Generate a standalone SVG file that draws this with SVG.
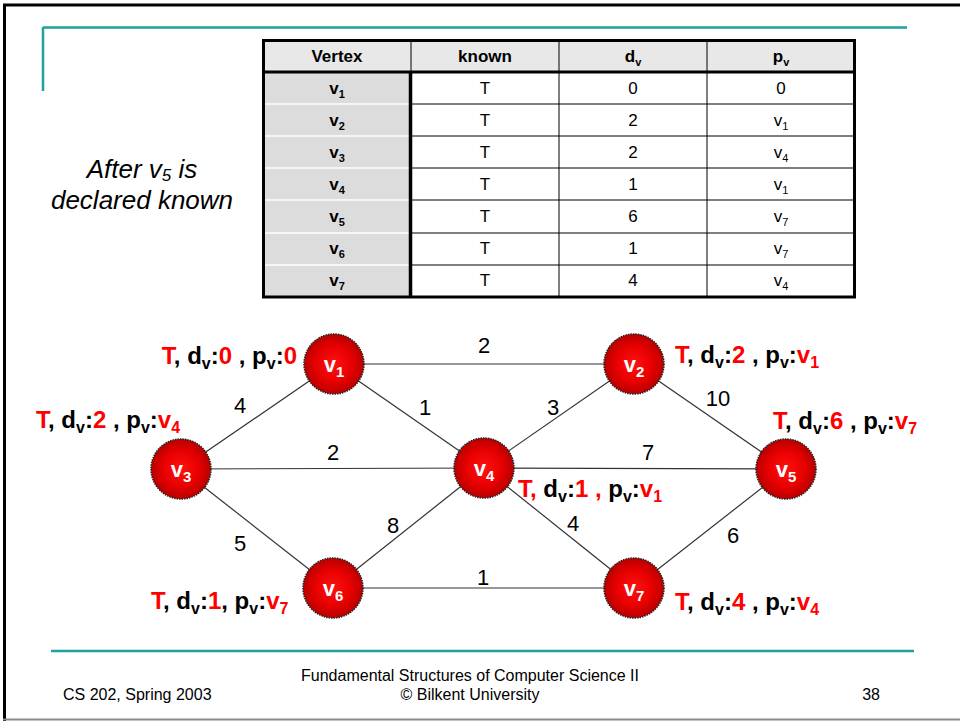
<svg xmlns="http://www.w3.org/2000/svg" width="960" height="721" viewBox="0 0 960 721">
<style>
text{font-family:"Liberation Sans",Arial,sans-serif;}
.frame{stroke:#000;stroke-width:3;fill:none}
.teal{stroke:#20a0a0;stroke-width:2.5;fill:none}
.th{font-size:17px;font-weight:bold;text-anchor:middle}
.td{font-size:17px;text-anchor:middle}
.tdb{font-size:17px;font-weight:bold;text-anchor:middle}
.sub{font-size:11px}
.edge{stroke:#333;stroke-width:1.2;fill:none}
.wt{font-size:22px;text-anchor:middle;fill:#000}
.node{fill:url(#rg);stroke:#222;stroke-width:1.5;stroke-dasharray:1.5 1}
.nl{font-size:22px;font-weight:bold;fill:#fff;text-anchor:middle}
.nls{font-size:15px}
.ann{font-size:24px;font-weight:bold;fill:#000}
.r{fill:#ff0000}
.as{font-size:16px}
.it{font-size:26px;font-style:italic;text-anchor:middle}
.ft{font-size:16px}
</style>
<defs>
<radialGradient id="rg" cx="0.5" cy="0.5" r="0.5">
<stop offset="0" stop-color="#ff1010"/>
<stop offset="0.6" stop-color="#e80000"/>
<stop offset="1" stop-color="#b80000"/>
</radialGradient>
</defs>
<rect x="0" y="0" width="960" height="721" fill="#fff"/>
<g id="frame">
<line x1="3" y1="5" x2="960" y2="5" class="frame"/>
<line x1="4.5" y1="4" x2="4.5" y2="721" class="frame"/>
<line x1="3" y1="719.5" x2="960" y2="719.5" stroke="#8a8a8a" stroke-width="2"/>
<line x1="43" y1="27.5" x2="907" y2="27.5" class="teal"/>
<line x1="43" y1="27" x2="43" y2="91" class="teal"/>
<line x1="51" y1="651" x2="914" y2="651" class="teal"/>
</g>
<g id="caption">
<text class="it" x="142" y="178">After v<tspan font-size="17px" dy="3">5</tspan><tspan dy="-3"> is</tspan></text>
<text class="it" x="142" y="209">declared known</text>
</g>
<g id="table">
<rect x="263" y="40" width="592" height="32" fill="#e8e8e8"/>
<rect x="263" y="72" width="148" height="225" fill="#dcdcdc"/>
<g stroke="#fff" stroke-width="1.5">
<line x1="263" y1="104" x2="409" y2="104"/>
<line x1="263" y1="136" x2="409" y2="136"/>
<line x1="263" y1="168" x2="409" y2="168"/>
<line x1="263" y1="200" x2="409" y2="200"/>
<line x1="263" y1="233" x2="409" y2="233"/>
<line x1="263" y1="265" x2="409" y2="265"/>
</g>
<g stroke="#000" stroke-width="1">
<line x1="411" y1="104" x2="855" y2="104"/>
<line x1="411" y1="136" x2="855" y2="136"/>
<line x1="411" y1="168" x2="855" y2="168"/>
<line x1="411" y1="200" x2="855" y2="200"/>
<line x1="411" y1="233" x2="855" y2="233"/>
<line x1="411" y1="265" x2="855" y2="265"/>
<line x1="559" y1="40" x2="559" y2="297"/>
<line x1="707" y1="40" x2="707" y2="297"/>
<line x1="411" y1="40" x2="411" y2="72"/>
</g>
<line x1="263" y1="72" x2="855" y2="72" stroke="#000" stroke-width="3"/>
<line x1="410.5" y1="72" x2="410.5" y2="297" stroke="#000" stroke-width="3.5"/>
<rect x="263.5" y="40.5" width="591" height="256.5" fill="none" stroke="#000" stroke-width="3"/>
<text class="th" x="337" y="62">Vertex</text>
<text class="th" x="485" y="62">known</text>
<text class="th" x="633" y="62">d<tspan class="sub" dy="4">v</tspan></text>
<text class="th" x="781" y="62">p<tspan class="sub" dy="4">v</tspan></text>
<g>
<text class="tdb" x="337" y="94">v<tspan class="sub" dy="4">1</tspan></text>
<text class="td" x="485" y="94">T</text>
<text class="td" x="633" y="94">0</text>
<text class="td" x="781" y="94">0</text>
<text class="tdb" x="337" y="126">v<tspan class="sub" dy="4">2</tspan></text>
<text class="td" x="485" y="126">T</text>
<text class="td" x="633" y="126">2</text>
<text class="td" x="781" y="126">v<tspan class="sub" dy="4">1</tspan></text>
<text class="tdb" x="337" y="158">v<tspan class="sub" dy="4">3</tspan></text>
<text class="td" x="485" y="158">T</text>
<text class="td" x="633" y="158">2</text>
<text class="td" x="781" y="158">v<tspan class="sub" dy="4">4</tspan></text>
<text class="tdb" x="337" y="190">v<tspan class="sub" dy="4">4</tspan></text>
<text class="td" x="485" y="190">T</text>
<text class="td" x="633" y="190">1</text>
<text class="td" x="781" y="190">v<tspan class="sub" dy="4">1</tspan></text>
<text class="tdb" x="337" y="222">v<tspan class="sub" dy="4">5</tspan></text>
<text class="td" x="485" y="222">T</text>
<text class="td" x="633" y="222">6</text>
<text class="td" x="781" y="222">v<tspan class="sub" dy="4">7</tspan></text>
<text class="tdb" x="337" y="254">v<tspan class="sub" dy="4">6</tspan></text>
<text class="td" x="485" y="254">T</text>
<text class="td" x="633" y="254">1</text>
<text class="td" x="781" y="254">v<tspan class="sub" dy="4">7</tspan></text>
<text class="tdb" x="337" y="286">v<tspan class="sub" dy="4">7</tspan></text>
<text class="td" x="485" y="286">T</text>
<text class="td" x="633" y="286">4</text>
<text class="td" x="781" y="286">v<tspan class="sub" dy="4">4</tspan></text>
</g>
</g>
<g id="connectors">
<line class="edge" x1="334" y1="364" x2="634" y2="364"/>
<line class="edge" x1="334" y1="364" x2="181" y2="469"/>
<line class="edge" x1="334" y1="364" x2="484" y2="468"/>
<line class="edge" x1="484" y1="468" x2="634" y2="364"/>
<line class="edge" x1="634" y1="364" x2="786" y2="469"/>
<line class="edge" x1="181" y1="469" x2="484" y2="468"/>
<line class="edge" x1="484" y1="468" x2="786" y2="469"/>
<line class="edge" x1="181" y1="469" x2="333" y2="588"/>
<line class="edge" x1="333" y1="588" x2="484" y2="468"/>
<line class="edge" x1="484" y1="468" x2="634" y2="588"/>
<line class="edge" x1="634" y1="588" x2="786" y2="469"/>
<line class="edge" x1="333" y1="588" x2="634" y2="588"/>
<text class="wt" x="484" y="353">2</text>
<text class="wt" x="240" y="413">4</text>
<text class="wt" x="425" y="415">1</text>
<text class="wt" x="553" y="415">3</text>
<text class="wt" x="718" y="406">10</text>
<text class="wt" x="333" y="460">2</text>
<text class="wt" x="648" y="460">7</text>
<text class="wt" x="240" y="551">5</text>
<text class="wt" x="393" y="533">8</text>
<text class="wt" x="573" y="531">4</text>
<text class="wt" x="733" y="543">6</text>
<text class="wt" x="483" y="585">1</text>
</g>
<g id="v1"><circle class="node" cx="334" cy="364" r="30"/><text class="nl" x="334" y="372">v<tspan class="nls" dy="5">1</tspan></text>
<text class="ann" x="297" y="364" text-anchor="end"><tspan class="r">T</tspan>, d<tspan class="as" dy="5">v</tspan><tspan dy="-5">:</tspan><tspan class="r">0</tspan> , p<tspan class="as" dy="5">v</tspan><tspan dy="-5">:</tspan><tspan class="r">0</tspan></text></g>
<g id="v2"><circle class="node" cx="634" cy="364" r="30"/><text class="nl" x="634" y="372">v<tspan class="nls" dy="5">2</tspan></text>
<text class="ann" x="675" y="363"><tspan class="r">T</tspan>, d<tspan class="as" dy="5">v</tspan><tspan dy="-5">:</tspan><tspan class="r">2</tspan> , p<tspan class="as" dy="5">v</tspan><tspan dy="-5">:</tspan><tspan class="r">v<tspan class="as" dy="5">1</tspan></tspan></text></g>
<g id="v3"><circle class="node" cx="181" cy="469" r="30"/><text class="nl" x="181" y="477">v<tspan class="nls" dy="5">3</tspan></text>
<text class="ann" x="36" y="428"><tspan class="r">T</tspan>, d<tspan class="as" dy="5">v</tspan><tspan dy="-5">:</tspan><tspan class="r">2</tspan> , p<tspan class="as" dy="5">v</tspan><tspan dy="-5">:</tspan><tspan class="r">v<tspan class="as" dy="5">4</tspan></tspan></text></g>
<g id="v4"><circle class="node" cx="484" cy="468" r="30"/><text class="nl" x="484" y="476">v<tspan class="nls" dy="5">4</tspan></text>
<text class="ann" x="518" y="497"><tspan class="r">T,</tspan> d<tspan class="as" dy="5">v</tspan><tspan dy="-5">:</tspan><tspan class="r">1 ,</tspan> p<tspan class="as" dy="5">v</tspan><tspan dy="-5">:</tspan><tspan class="r">v<tspan class="as" dy="5">1</tspan></tspan></text></g>
<g id="v5"><circle class="node" cx="786" cy="469" r="30"/><text class="nl" x="786" y="477">v<tspan class="nls" dy="5">5</tspan></text>
<text class="ann" x="773" y="429"><tspan class="r">T</tspan>, d<tspan class="as" dy="5">v</tspan><tspan dy="-5">:</tspan><tspan class="r">6</tspan> , p<tspan class="as" dy="5">v</tspan><tspan dy="-5">:</tspan><tspan class="r">v<tspan class="as" dy="5">7</tspan></tspan></text></g>
<g id="v6"><circle class="node" cx="333" cy="588" r="30"/><text class="nl" x="333" y="596">v<tspan class="nls" dy="5">6</tspan></text>
<text class="ann" x="151" y="609"><tspan class="r">T</tspan>, d<tspan class="as" dy="5">v</tspan><tspan dy="-5">:</tspan><tspan class="r">1</tspan>, p<tspan class="as" dy="5">v</tspan><tspan dy="-5">:</tspan><tspan class="r">v<tspan class="as" dy="5">7</tspan></tspan></text></g>
<g id="v7"><circle class="node" cx="634" cy="588" r="30"/><text class="nl" x="634" y="596">v<tspan class="nls" dy="5">7</tspan></text>
<text class="ann" x="675" y="610"><tspan class="r">T</tspan>, d<tspan class="as" dy="5">v</tspan><tspan dy="-5">:</tspan><tspan class="r">4</tspan> , p<tspan class="as" dy="5">v</tspan><tspan dy="-5">:</tspan><tspan class="r">v<tspan class="as" dy="5">4</tspan></tspan></text></g>
<g id="footer">
<text class="ft" x="470" y="681" text-anchor="middle">Fundamental Structures of Computer Science II</text>
<text class="ft" x="470" y="700" text-anchor="middle">© Bilkent University</text>
<text class="ft" x="63" y="700">CS 202, Spring 2003</text>
<text class="ft" x="880" y="700" text-anchor="end">38</text>
</g>
</svg>
